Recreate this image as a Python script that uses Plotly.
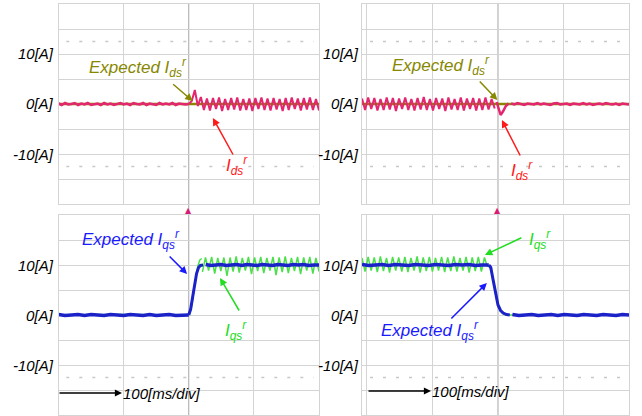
import numpy as np
import plotly.graph_objects as go

W, H = 642, 416

# ---------------- axes / labels ----------------
x_grid_vals = [-200, -100, 100, 200]          # ms (100 ms/div); 0 drawn as darker centre line
y_grid_step = 5
y_label_vals = [10, 0, -10]
y_label_text = ["10[A]", "0[A]", "-10[A]"]
dotted_levels_top = [12.5, -12.5]
dotted_levels_bottom = [-12.5]
time_label = "100[ms/div]"

# ---------------- data (A vs ms) ----------------
# top-left : i_ds^r, step applied at t = 0
ids_l_pre = [0.1, -0.2, 0.2, -0.1, 0.0, 0.2, -0.2, 0.1, -0.1, 0.2, -0.2, 0.0, 0.1, -0.2, 0.2,
             -0.1, 0.1, -0.2, 0.0, 0.2, -0.1, 0.1, -0.2, 0.2, 0.0, -0.1, 0.2, -0.2, 0.1, 0.0,
             -0.2, 0.2, -0.1, 0.1, -0.1, 0.2, -0.2, 0.1, 0.0, -0.1, 0.0]
ids_l_post = [0.0, 0.6, 2.8, -0.4, 1.4, -1.2, 1.1, -1.3, 1.2, -1.0, 1.3, -1.4, 1.0, -1.2, 1.2,
              -1.1, 1.3, -1.3, 1.0, -1.2, 1.1, -1.4, 1.2, -1.0, 1.3, -1.2, 1.1, -1.3, 1.2, -1.1,
              1.0, -1.4, 1.2, -1.2, 1.3, -1.0, 1.1, -1.3, 1.2, -1.1, 1.3, -1.2, 1.0, -1.3]
ids_exp_l_t = [-200, 200]
ids_exp_l = [0.0, 0.0]

# top-right : i_ds^r
ids_r_pre = [1.1, -1.2, 1.3, -1.0, 1.2, -1.3, 1.0, -1.2, 1.3, -1.1, 1.2, -1.4, 1.1, -1.0, 1.3,
             -1.2, 1.0, -1.3, 1.2, -1.1, 1.4, -1.2, 1.0, -1.3, 1.2, -1.0, 1.1, -1.4, 1.3, -1.1,
             1.0, -1.2, 1.3, -1.3, 1.1, -1.0, 1.2, -1.3, 1.1, -1.2, 1.3, -1.1, 1.0, -0.9]
ids_r_dip_t = [-2, 1, 4, 8, 12, 16]
ids_r_dip = [0.4, -1.2, -2.2, -1.4, -0.4, 0.1]
ids_r_post = [0.1, -0.1, 0.2, 0.0, -0.2, 0.1, 0.0, -0.1, 0.2, -0.1, 0.1, 0.0, -0.2, 0.1, 0.2,
              -0.1, 0.0, 0.1, -0.2, 0.1, 0.0, -0.1, 0.2, -0.1, 0.1, -0.2, 0.0, 0.1, -0.1, 0.2,
              0.0, -0.1, 0.1, -0.2, 0.1, 0.0, -0.1]
ids_exp_r_t = [-207.6, 200]
ids_exp_r = [0.0, 0.0]

# bottom-left : i_qs^r (expected = blue, actual = green)
iqs_exp_l_pre = [0.1, -0.1, 0.0, 0.1, -0.1, 0.1, 0.0, -0.1, 0.1, 0.0, -0.1, 0.1, 0.0, -0.1,
                 0.1, -0.1, 0.0, 0.1, -0.1, 0.0, 0.0]
iqs_exp_l_ramp_t = [0, 3, 6, 9, 12, 15, 18, 22]
iqs_exp_l_ramp = [0.0, 1.2, 3.6, 6.2, 8.3, 9.5, 9.9, 10.0]
iqs_exp_l_post = [10.1, 9.9, 10.0, 10.1, 9.9, 10.0, 10.1, 9.9, 10.1, 10.0, 9.9, 10.1, 10.0,
                  9.9, 10.1, 10.0, 9.9, 10.1, 10.0, 10.1, 9.9, 10.0, 10.0]
iqs_act_l_pre_t = [-200, -100, 0]
iqs_act_l_pre = [0.0, 0.1, 0.0]
iqs_act_l_ramp_t = [2, 5, 8, 11, 14, 17, 20]
iqs_act_l_ramp = [0.3, 2.2, 5.0, 7.8, 9.8, 11.0, 11.3]
iqs_act_l_post = [8.6, 11.5, 8.9, 11.6, 8.3, 11.4, 8.8, 11.5, 7.8, 11.5, 8.7, 11.7, 8.5, 11.4,
                  8.9, 11.6, 8.2, 11.5, 8.8, 11.6, 8.4, 11.4, 8.9, 11.6, 8.0, 11.5, 8.6, 11.7,
                  8.4, 11.4, 8.8, 11.6, 8.2, 11.5, 8.9, 11.6, 8.3, 11.4, 8.7]

# bottom-right : i_qs^r
iqs_exp_r_pre = [10.1, 9.9, 10.0, 10.1, 9.9, 10.1, 10.0, 9.9, 10.1, 10.0, 9.9, 10.1, 10.0,
                 9.9, 10.1, 10.0, 10.1, 9.9, 10.0, 10.0]
iqs_exp_r_ramp_t = [-14, -11, -8, -4, 0, 4, 8, 13, 18]
iqs_exp_r_ramp = [10.0, 9.5, 7.4, 4.5, 2.0, 0.9, 0.4, 0.1, 0.0]
iqs_exp_r_post = [0.1, -0.1, 0.0, 0.1, -0.1, 0.0, 0.1, -0.1, 0.1, 0.0, -0.1, 0.1, 0.0, -0.1,
                  0.1, 0.0, -0.1, 0.1, 0.0]
iqs_act_r_pre = [11.4, 8.7, 11.6, 8.9, 11.5, 8.6, 11.7, 8.8, 11.4, 8.5, 11.6, 8.9, 11.5, 8.7,
                 11.6, 8.6, 11.4, 8.9, 11.7, 8.5, 11.5, 8.8, 11.6, 8.7, 11.4, 8.9, 11.6, 8.6,
                 11.5, 8.8, 11.7, 8.7, 11.4, 8.9, 11.6, 8.5, 11.5, 8.8, 11.6, 8.7, 11.5, 9.6]
iqs_act_r_ramp_t = [-13, -9, -5, -1, 3, 7, 12, 20, 200]
iqs_act_r_ramp = [9.8, 8.2, 5.6, 2.8, 1.0, 0.3, 0.0, 0.0, 0.0]

# ---------------- colours ----------------
C_PINK = "#e3266f"
C_OLIVE = "#878700"
C_RED = "#ff1a1a"
C_BLUE = "#1a22c8"
C_BLUE_TXT = "#1a1aff"
C_GREEN = "#4be04b"
C_GREEN_TXT = "#22dd22"
C_GRID = "#d4d4d4"
C_CENTER = "#a6a6a6"
C_TRIG = "#d81b74"

FONT = "Liberation Sans, Arial, sans-serif"

# ---------------- layout geometry ----------------
def px_x(p): return p / W
def px_y(p): return 1 - p / H

dom_left = [px_x(58.5), px_x(319)]
dom_right = [px_x(362), px_x(629)]
dom_top = [px_y(204), px_y(4)]
dom_bot = [px_y(415), px_y(215)]
range_left = [-200, 200]
range_right = [-207.6, 200]

fig = go.Figure()

def line(t, v, axes, color, width):
    fig.add_trace(go.Scatter(x=t, y=v, mode="lines", xaxis=axes[0], yaxis=axes[1],
                             line=dict(color=color, width=width), hoverinfo="skip",
                             showlegend=False))

TL, TR, BL, BR = ("x", "y"), ("x2", "y2"), ("x3", "y3"), ("x4", "y4")

# top-left
line(ids_exp_l_t, ids_exp_l, TL, C_OLIVE, 2.5)
line(np.linspace(-200, 0, len(ids_l_pre)), ids_l_pre, TL, C_PINK, 2.5)
line(np.linspace(0, 200, len(ids_l_post)), ids_l_post, TL, C_PINK, 2)
# top-right
line(ids_exp_r_t, ids_exp_r, TR, C_OLIVE, 2.5)
line(np.linspace(-207.6, -5, len(ids_r_pre)), ids_r_pre, TR, C_PINK, 2)
line(ids_r_dip_t, ids_r_dip, TR, C_PINK, 2.5)
line(np.linspace(20, 200, len(ids_r_post)), ids_r_post, TR, C_PINK, 2.5)
# bottom-left
line(iqs_act_l_pre_t, iqs_act_l_pre, BL, C_GREEN, 1.5)
line(iqs_act_l_ramp_t, iqs_act_l_ramp, BL, C_GREEN, 1.5)
line(np.linspace(21, 200, len(iqs_act_l_post)), iqs_act_l_post, BL, C_GREEN, 1.5)
line(np.linspace(-200, 0, len(iqs_exp_l_pre)), iqs_exp_l_pre, BL, C_BLUE, 3.5)
line(iqs_exp_l_ramp_t, iqs_exp_l_ramp, BL, C_BLUE, 3)
line(np.linspace(26, 200, len(iqs_exp_l_post)), iqs_exp_l_post, BL, C_BLUE, 3.5)
# bottom-right
line(np.linspace(-207.6, -16, len(iqs_act_r_pre)), iqs_act_r_pre, BR, C_GREEN, 1.5)
line(iqs_act_r_ramp_t, iqs_act_r_ramp, BR, C_GREEN, 1.5)
line(np.linspace(-207.6, -14, len(iqs_exp_r_pre)), iqs_exp_r_pre, BR, C_BLUE, 3.5)
line(iqs_exp_r_ramp_t, iqs_exp_r_ramp, BR, C_BLUE, 3)
line(np.linspace(22, 200, len(iqs_exp_r_post)), iqs_exp_r_post, BR, C_BLUE, 3.5)

axis_common = dict(showgrid=True, gridcolor=C_GRID, gridwidth=1, zeroline=False,
                   showticklabels=False, ticks="", showline=True, mirror=True,
                   linecolor=C_GRID, linewidth=1, fixedrange=True)

layout = dict(
    width=W, height=H, margin=dict(l=0, r=0, t=0, b=0),
    paper_bgcolor="white", plot_bgcolor="rgba(0,0,0,0)", showlegend=False,
)
for i, (xd, yd, xr) in enumerate([(dom_left, dom_top, range_left), (dom_right, dom_top, range_right),
                                   (dom_left, dom_bot, range_left), (dom_right, dom_bot, range_right)]):
    n = "" if i == 0 else str(i + 1)
    layout["xaxis" + n] = dict(axis_common, domain=xd, range=xr, tickmode="array",
                               tickvals=x_grid_vals, anchor="y" + n)
    layout["yaxis" + n] = dict(axis_common, domain=yd, range=[-20, 20], tick0=0,
                               dtick=y_grid_step, anchor="x" + n)
fig.update_layout(**layout)

shapes = []
# continuous darker centre (trigger) line through both rows
for xr in ["x", "x2"]:
    shapes.append(dict(type="line", xref=xr, yref="paper", x0=0, x1=0, y0=0, y1=dom_top[1],
                       line=dict(color=C_CENTER, width=1), layer="below"))
for ax_n in ["", "2"]:
    for lv in dotted_levels_top:
        shapes.append(dict(type="line", xref="x" + ax_n + " domain", yref="y" + ax_n,
                           x0=0.03, x1=0.98, y0=lv, y1=lv,
                           line=dict(color="#c8c8c8", width=1.3, dash="3px,10px"), layer="below"))
for ax_n in ["3", "4"]:
    for lv in dotted_levels_bottom:
        shapes.append(dict(type="line", xref="x" + ax_n + " domain", yref="y" + ax_n,
                           x0=0.03, x1=0.98, y0=lv, y1=lv,
                           line=dict(color="#c8c8c8", width=1.3, dash="3px,10px"), layer="below"))
fig.update_layout(shapes=shapes)

ann = []
def text(s, x, y, color, size, xanchor="center", xref="paper", yref="paper"):
    ann.append(dict(text=s, x=x, y=y, xref=xref, yref=yref, showarrow=False,
                    xanchor=xanchor, yanchor="middle",
                    font=dict(family=FONT, size=size, color=color, style="italic")))

def arrow(x, y, ax, ay, color, xref, yref, width=1.5, size=1.0):
    ann.append(dict(text="", x=x, y=y, xref=xref, yref=yref, ax=ax, ay=ay,
                    axref="pixel", ayref="pixel", showarrow=True, arrowhead=2,
                    arrowsize=size, arrowwidth=width, arrowcolor=color, standoff=0,
                    startstandoff=0))

# y labels
for lab_x, ys in [(px_x(56), ["y", "y3"]), (px_x(361), ["y2", "y4"])]:
    for yr in ys:
        for v, s in zip(y_label_vals, y_label_text):
            text(s, lab_x, v, "black", 15, xanchor="right", yref=yr)

# top-left
text("Expected I<sub>ds</sub><sup>r</sup>", px_x(138), px_y(68), C_OLIVE, 17)
arrow(6, 0.6, -21, -18, C_OLIVE, "x", "y")
text("I<sub>ds</sub><sup>r</sup>", px_x(237), px_y(165), C_RED, 17)
arrow(37, -2.8, 21, 38, C_RED, "x", "y")
# top-right
text("Expected I<sub>ds</sub><sup>r</sup>", px_x(441), px_y(65), C_OLIVE, 17)
arrow(-1, 0.8, -19, -20, C_OLIVE, "x2", "y2")
text("I<sub>ds</sub><sup>r</sup>", px_x(522), px_y(170), C_RED, 17)
arrow(6, -3.2, 19, 37, C_RED, "x2", "y2")
# bottom-left
text("Expected I<sub>qs</sub><sup>r</sup>", px_x(131), px_y(240), C_BLUE_TXT, 17)
arrow(-2.5, 8.2, -19, -19, C_BLUE_TXT, "x3", "y3")
text("I<sub>qs</sub><sup>r</sup>", px_x(236), px_y(330), C_GREEN_TXT, 17)
arrow(48, 7.4, 20, 34, C_GREEN_TXT, "x3", "y3")
# bottom-right
text("I<sub>qs</sub><sup>r</sup>", px_x(540), px_y(240), C_GREEN_TXT, 17)
arrow(-20, 12, 38, -18, C_GREEN_TXT, "x4", "y4")
text("Expected I<sub>qs</sub><sup>r</sup>", px_x(430), px_y(330), C_BLUE_TXT, 17)
arrow(-17, 6.4, -37, 37, C_BLUE_TXT, "x4", "y4")

# time-base labels
text(time_label, px_x(121), px_y(393), "black", 15, xanchor="left")
arrow(px_x(122), px_y(393), -64, 0, "black", "paper", "paper", width=1.3, size=1.1)
text(time_label, px_x(430), px_y(391), "black", 15, xanchor="left")
arrow(px_x(431), px_y(391), -64, 0, "black", "paper", "paper", width=1.3, size=1.1)

# trigger markers
for xr in ["x", "x2"]:
    ann.append(dict(text="▲", x=0, y=px_y(210), xref=xr, yref="paper", showarrow=False,
                    xanchor="center", yanchor="middle",
                    font=dict(family="DejaVu Sans", size=8, color=C_TRIG)))

fig.update_layout(annotations=ann)
fig.write_html("out.html", config={"displayModeBar": False},
               post_script="document.body.style.margin='0';document.body.style.overflow='hidden';")
